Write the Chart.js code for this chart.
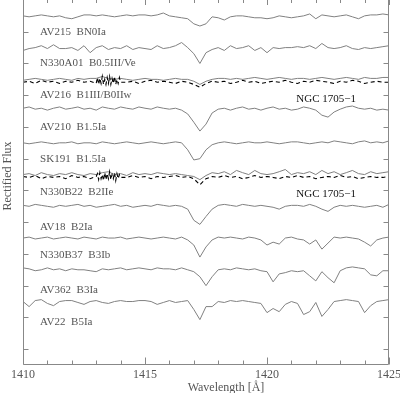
<!DOCTYPE html>
<html>
<head>
<meta charset="utf-8">
<script src="https://cdn.jsdelivr.net/npm/chart.js@4.4.0/dist/chart.umd.min.js"></script>
<style>html,body{margin:0;padding:0;background:#fff}</style>
</head>
<body>
<canvas id="chart" width="400" height="393"></canvas>
<script>
// wavelength grid (Angstrom)
const wave = [1410,1410.25,1410.5,1410.75,1411,1411.25,1411.5,1411.75,1412,1412.25,
  1412.5,1412.75,1413,1413.25,1413.5,1413.75,1414,1414.25,1414.5,1414.75,
  1415,1415.25,1415.5,1415.75,1416,1416.25,1416.5,1416.75,1417,1417.25,
  1417.5,1417.75,1418,1418.25,1418.5,1418.75,1419,1419.25,1419.5,1419.75,
  1420,1420.25,1420.5,1420.75,1421,1421.25,1421.5,1421.75,1422,1422.25,
  1422.5,1422.75,1423,1423.25,1423.5,1423.75,1424,1424.25,1424.5,1424.75,1425]

// rectified flux, top to bottom
const av215 = [1.00,0.97,1.00,1.03,1.00,0.97,1.00,0.94,0.91,0.97, 1.03,1.03,1.00,1.03,1.00,0.97,1.00,1.03,1.00,1.03,
  1.03,1.00,1.03,1.09,1.00,0.97,0.94,0.91,0.75,0.68, 0.75,0.97,0.94,0.87,0.97,1.00,1.00,0.97,0.94,0.94,
  0.91,0.94,1.00,0.97,0.94,0.97,1.00,1.06,0.91,1.03, 1.00,0.97,1.00,1.03,0.97,0.91,1.00,1.03,1.03,1.06,1.03]
const n330a01 = [0.91,0.97,1.00,1.06,0.97,1.09,0.97,0.97,1.00,0.91, 1.06,0.84,1.00,1.06,0.94,1.00,0.97,1.06,0.94,1.00,
  0.97,0.94,1.06,0.97,1.00,1.06,1.16,1.00,0.81,0.50, 0.84,0.94,1.00,0.91,1.06,0.97,1.00,1.06,0.91,1.00,
  0.84,1.00,0.97,1.00,1.00,1.03,1.00,1.06,0.97,1.13, 1.00,0.97,1.00,1.06,0.97,0.94,1.00,0.97,1.00,1.03,1.06]
const av216 = [0.97,1.00,1.03,1.00,0.97,1.00,1.03,1.00,0.97,1.03, 1.00,1.03,1.03,1.09,1.03,1.00,1.03,1.00,0.97,1.00,
  1.03,1.00,1.00,0.97,1.00,1.03,1.00,1.00,0.94,0.84, 0.94,1.00,1.03,1.03,1.00,1.03,1.00,1.03,1.06,1.03,
  1.00,1.03,1.06,1.03,1.00,1.03,1.03,1.00,1.03,1.06, 1.03,1.00,1.03,1.06,1.03,1.00,1.06,1.03,1.03,1.06,1.06]
const av210 = [1.09,1.13,1.06,1.09,1.03,1.09,1.13,1.06,1.09,1.13, 1.06,1.09,1.03,1.13,1.09,1.06,1.13,1.09,1.06,1.13,
  1.09,1.06,1.13,1.09,1.06,1.09,1.03,0.91,0.65,0.37, 0.59,0.94,1.06,1.09,1.03,1.09,1.13,1.06,1.09,1.03,
  1.09,1.13,1.06,1.09,1.03,1.06,1.13,1.09,1.03,0.87, 0.81,0.97,1.06,1.13,1.16,1.09,1.06,1.09,1.03,1.06,1.03]
const sk191 = [1.00,0.97,1.00,1.03,1.00,0.97,1.00,1.00,1.03,0.97, 1.00,1.00,0.97,1.03,1.00,0.97,1.00,1.03,1.00,0.97,
  1.00,1.03,1.00,0.97,1.00,1.03,1.00,0.78,0.46,0.50, 0.78,0.94,1.00,1.03,1.00,0.97,1.00,1.03,1.00,1.00,
  1.03,1.00,0.97,1.00,1.03,1.03,1.00,0.97,1.00,1.03, 1.00,1.06,1.03,1.00,0.97,1.03,1.06,1.00,1.03,1.00,1.06]
const n330b22 = [1.00,1.03,0.97,1.06,1.00,0.97,1.03,1.00,1.06,1.00, 0.97,1.03,1.00,1.06,1.09,1.00,1.03,0.97,1.06,1.00,
  1.03,1.00,1.06,1.03,1.00,1.03,1.00,0.97,0.94,0.84, 0.97,1.06,1.03,1.09,1.00,1.13,1.06,1.00,1.13,1.03,
  1.00,1.03,1.09,1.16,1.00,1.06,1.03,1.09,1.00,1.13, 1.03,1.09,1.00,1.06,1.13,1.03,1.00,1.09,1.03,1.06,1.09]
const av18 = [1.03,1.00,1.06,1.03,1.00,0.97,1.03,1.00,1.03,1.06, 1.00,1.03,0.97,1.00,1.03,1.06,1.00,1.03,0.97,1.00,
  1.03,1.00,1.06,1.03,1.00,1.03,1.00,0.91,0.56,0.43, 0.68,0.91,1.03,1.06,1.03,1.00,1.06,1.03,1.00,1.03,
  1.00,0.97,0.91,1.00,1.03,1.03,1.00,1.06,1.00,0.91, 0.84,0.97,1.03,1.00,1.03,1.00,0.97,1.00,1.03,0.97,1.06]
const n330b37 = [1.00,1.03,0.97,1.00,1.03,0.97,1.00,1.03,1.00,0.97, 1.03,1.00,0.97,1.03,1.00,1.00,1.03,0.97,1.00,1.03,
  1.00,0.97,1.00,1.03,1.00,0.97,1.03,0.94,0.78,0.40, 0.72,0.94,1.03,1.00,1.03,1.00,0.97,1.03,1.00,0.94,
  0.78,0.87,0.81,1.00,1.03,0.97,0.94,0.81,0.94,0.65, 0.84,1.03,1.00,1.03,1.00,0.97,0.87,0.75,0.94,1.00,1.03]
const av362 = [1.06,1.03,0.97,1.00,1.06,1.00,1.03,0.97,1.03,1.00, 1.00,0.97,0.94,1.03,1.00,1.03,1.06,1.00,1.03,1.06,
  1.03,1.00,1.06,1.03,1.03,1.00,1.06,1.00,0.94,0.78, 0.50,0.78,1.00,1.03,1.00,1.06,1.03,1.00,1.03,0.97,
  0.94,0.62,0.87,0.91,0.97,0.94,0.97,0.81,0.65,0.94, 0.75,0.59,0.97,1.06,1.09,1.06,1.03,0.84,0.81,0.97,0.97]
const av22 = [1.00,0.84,1.03,1.06,0.94,0.87,1.00,1.03,1.03,0.97, 0.91,1.00,1.03,0.97,0.94,1.00,1.03,1.00,1.00,1.03,
  1.03,1.00,0.91,0.97,1.03,0.97,1.00,1.03,0.75,0.43, 0.84,0.84,1.00,0.97,1.03,1.00,1.03,1.00,0.97,0.94,
  0.65,0.78,0.68,0.91,1.00,0.94,0.59,0.68,0.97,0.53, 0.75,1.00,1.03,1.06,1.03,1.00,0.65,0.87,1.00,1.03,1.06]

const spectra = [av215, n330a01, av216, av210, sk191, n330b22, av18, n330b37, av362, av22]
const starLabels = ["AV215  BN0Ia", "N330A01  B0.5III/Ve", "AV216  B1III/B0IIw", "AV210  B1.5Ia", "SK191  B1.5Ia",
  "N330B22  B2IIe", "AV18  B2Ia", "N330B37  B3Ib", "AV362  B3Ia", "AV22  B5Ia"]
const offsets = [9.5, 8.5, 7.5, 6.5, 5.5, 4.5, 3.5, 2.5, 1.5, 0.5]
const labelLevels = [10.0, 9.0, 8.0, 7.0, 6.0, 4.95, 3.85, 2.97, 1.86, 0.85]

// NGC 1705-1, finer sampling where it is noisy
const ngcWave = [1410,1410.25,1410.5,1410.75,1411,1411.25,1411.5,1411.75,1412,1412.25,1412.5,1412.75,1413,
  1413.05,1413.1,1413.15,1413.2,1413.25,1413.3,1413.35,1413.4,1413.45,1413.5,
  1413.55,1413.6,1413.65,1413.7,1413.75,1413.8,1413.85,1413.9,1413.95,1414,
  1414.25,1414.5,1414.75,1415,1415.25,1415.5,1415.75,1416,1416.25,1416.5,1416.75,1417,1417.25,
  1417.5,1417.75,1418,1418.25,1418.5,1418.75,1419,1419.25,1419.5,1419.75,
  1420,1420.25,1420.5,1420.75,1421,1421.25,1421.5,1421.75,1422,1422.25,
  1422.5,1422.75,1423,1423.25,1423.5,1423.75,1424,1424.25,1424.5,1424.75,1425]
const ngcTop = [0.91,0.94,0.87,0.97,0.91,0.94,0.87,0.94,0.91,0.97,0.91,0.94,0.87,
  1.06,0.84,1.03,0.87,1.09,0.84,1.00,0.84,1.06,0.87,1.09,0.84,1.03,0.87,1.09,0.84,1.00,0.87,1.06,0.91,
  0.91,0.94,0.87,0.94,0.97,0.91,0.94,0.91,0.87,0.94,0.91,0.84,0.75,
  0.87,0.94,0.91,0.94,0.87,0.91,0.97,0.91,0.94,0.87,0.91,0.94,0.91,0.97,0.91,0.87,
  0.94,0.91,0.97,0.94,0.91,0.87,0.94,0.91,0.97,0.94,0.87,0.91,0.94,0.91,0.91]
const ngcBottom = [0.94,0.91,0.97,0.87,0.94,0.91,0.94,0.87,0.97,0.91,0.94,0.87,0.94,
  1.03,0.84,1.06,0.87,1.00,0.81,1.06,0.84,1.03,0.87,1.09,0.84,1.00,0.87,1.06,0.81,1.03,0.87,1.00,0.91,
  0.91,0.97,0.91,0.94,0.87,0.94,0.91,0.94,0.97,0.91,0.94,0.87,0.68,
  0.87,0.94,0.91,0.97,0.91,0.94,0.87,0.91,0.97,0.91,0.94,0.91,0.87,0.94,0.91,0.97,
  0.91,0.94,0.87,0.91,0.94,0.91,0.97,0.91,0.94,0.87,0.91,0.94,0.91,0.91,0.94]
const ngcOffsets = [7.5, 4.5]
const ngcLabel = "NGC 1705−1"
const ngcLabelLevels = [7.88, 4.89]

// axes
const xMajorTicks = [1410, 1415, 1420, 1425]
const xMinorTicks = [1411,1412,1413,1414,1416,1417,1418,1419,1421,1422,1423,1424]
const yTicks = [0,1,2,3,4,5,6,7,8,9,10]

const gray = '#808080'
const textGray = '#555'

const datasets = []
spectra.forEach((flux, i) => {
    datasets.push({
        label: starLabels[i],
        data: wave.map((w, k) => ({ x: w, y: flux[k] + offsets[i] })),
        borderColor: gray, borderWidth: 1, pointRadius: 0, order: 2
    })
})
;[ngcTop, ngcBottom].forEach((flux, i) => {
    datasets.push({
        label: ngcLabel,
        data: ngcWave.map((w, k) => ({ x: w, y: flux[k] + ngcOffsets[i] })),
        borderColor: '#000', borderWidth: 1.1, borderDash: [4, 3], pointRadius: 0, order: 1
    })
})

// frame (top edge sits just off the canvas), inward ticks and text
const framePlugin = {
    id: 'frame',
    afterDatasetsDraw(chart) {
        const { ctx, chartArea: a, scales: { x, y } } = chart
        const L = a.left + 0.5, R = a.right - 0.5, B = a.bottom - 0.5
        ctx.save()
        ctx.strokeStyle = '#888'
        ctx.lineWidth = 1
        ctx.beginPath()
        ctx.moveTo(L, a.top); ctx.lineTo(L, B); ctx.lineTo(R, B); ctx.lineTo(R, a.top)
        xMajorTicks.forEach(v => {
            const px = Math.round(x.getPixelForValue(v)) + 0.5
            ctx.moveTo(px, B); ctx.lineTo(px, B - 7)
            ctx.moveTo(px, a.top); ctx.lineTo(px, a.top + 5)
        })
        xMinorTicks.forEach(v => {
            const px = Math.round(x.getPixelForValue(v)) + 0.5
            ctx.moveTo(px, B); ctx.lineTo(px, B - 4)
            ctx.moveTo(px, a.top); ctx.lineTo(px, a.top + 3)
        })
        yTicks.forEach(v => {
            const py = Math.round(y.getPixelForValue(v)) + 0.5
            ctx.moveTo(L, py); ctx.lineTo(L + 5, py)
            ctx.moveTo(R, py); ctx.lineTo(R - 5, py)
        })
        ctx.stroke()

        // spectrum labels
        ctx.fillStyle = textGray
        ctx.font = "11px 'Liberation Serif'"
        ctx.textBaseline = 'middle'
        ctx.textAlign = 'left'
        starLabels.forEach((t, i) => {
            ctx.fillText(t, x.getPixelForValue(1410.7), y.getPixelForValue(labelLevels[i]))
        })
        ctx.fillStyle = '#111'
        ngcLabelLevels.forEach(lv => {
            ctx.fillText(ngcLabel, x.getPixelForValue(1421.2), y.getPixelForValue(lv))
        })

        // x tick labels and titles
        ctx.fillStyle = textGray
        ctx.font = "12px 'Liberation Serif'"
        ctx.textAlign = 'center'
        xMajorTicks.forEach(v => {
            ctx.fillText(String(v), x.getPixelForValue(v), a.bottom + 10)
        })
        ctx.fillText('Wavelength [Å]', (a.left + a.right) / 2 + 20, a.bottom + 23)
        ctx.translate(8, 176)
        ctx.rotate(-Math.PI / 2)
        ctx.fillText('Rectified Flux', 0, 0)
        ctx.restore()
    }
}

new Chart(document.getElementById('chart'), {
    type: 'line',
    data: { datasets },
    options: {
        responsive: false,
        animation: false,
        layout: { padding: { left: 23, right: 11, top: 0, bottom: 28 } },
        plugins: { legend: { display: false }, tooltip: { enabled: false } },
        elements: { line: { tension: 0 } },
        scales: {
            x: { type: 'linear', min: 1410, max: 1425, display: false },
            y: { type: 'linear', min: -0.5, max: 11, display: false }
        }
    },
    plugins: [framePlugin]
})
</script>
</body>
</html>
